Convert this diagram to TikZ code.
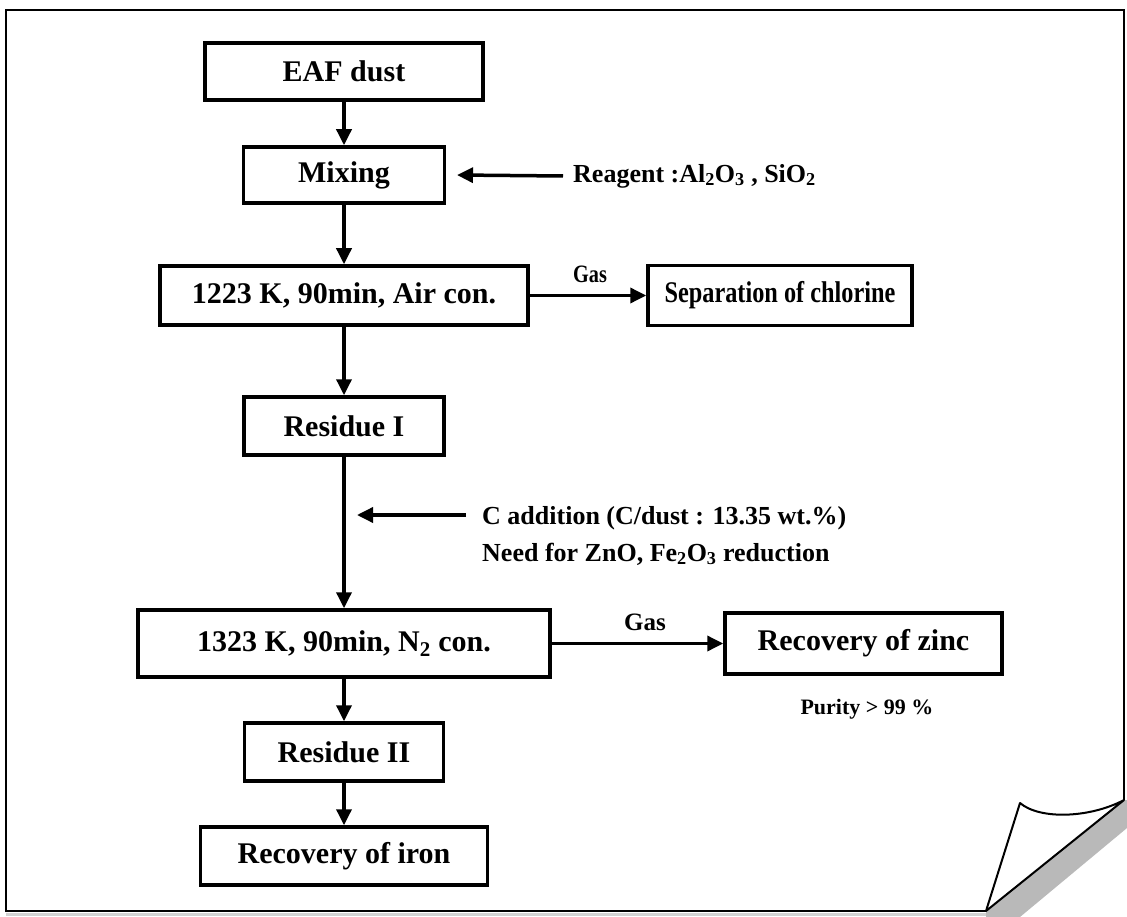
\documentclass[tikz,border=0pt]{standalone}
\usepackage{fontspec}
\setmainfont{Liberation Serif}
\newfontfamily\narrowserif{Liberation Serif}[FakeStretch=0.81]
\usepackage{tikz}
\usetikzlibrary{arrows.meta}
\usepackage[dvipsnames]{xcolor}

\tikzset{
  stepbox/.style={draw, line width=3.5pt, inner sep=0pt, font=\bfseries\fontsize{30}{36}\selectfont},
  arr/.style={line width=3.5pt, -{Triangle[length=16pt,width=15pt]}},
  lbl/.style={inner sep=0pt, font=\bfseries\fontsize{26}{30}\selectfont},
}

\begin{document}
\begin{tikzpicture}[x=1pt, y=-1pt]
        \useasboundingbox (0,0) rectangle (1127,917);

        % page with the turned corner
        \fill[gray!55] (986,911) -- (1124,800) -- (1127,800) -- (1127,828) -- (1020,917) -- (986,917) -- cycle;
        \fill[gray!35] (6,913) rectangle (986,916);
        \draw[line width=2pt] (986,911) -- (6,911) -- (6,10) -- (1124,10) -- (1124,800);
        \draw[line width=2pt, line join=round] (986,911) -- (1020,803) .. controls (1040,820) and (1090,818) .. (1124,800) -- cycle;

        \node[stepbox, minimum width=278pt, minimum height=57pt] (dust) at (344,71.5) {EAF dust};
        \node[stepbox, minimum width=201pt, minimum height=56pt] (mix) at (344,175) {Mixing};
        \node[stepbox, minimum width=368pt, minimum height=59pt] (heatA) at (344,295.5) {1223 K, 90min, Air con.};
        \node[stepbox, minimum width=264pt, minimum height=60pt, font=\narrowserif\bfseries\fontsize{30}{36}\selectfont] (chlor) at (780,295.5) {Separation of chlorine};
        \node[stepbox, minimum width=200pt, minimum height=58pt] (resA) at (344,426) {Residue I};
        \node[stepbox, minimum width=412pt, minimum height=67pt] (heatB) at (344,643.5) {1323 K, 90min, N\textsubscript{2} con.};
        \node[stepbox, minimum width=277pt, minimum height=61pt] (zinc) at (863.5,643.5) {Recovery of zinc};
        \node[stepbox, minimum width=199pt, minimum height=58pt] (resB) at (344,752) {Residue II};
        \node[stepbox, minimum width=287pt, minimum height=58pt] (iron) at (344,856) {Recovery of iron};

        \node[lbl, anchor=west] (reag) at (573,176) {Reagent :Al\textsubscript{2}O\textsubscript{3} , SiO\textsubscript{2}};
        \node[lbl, anchor=base west] (cadd) at (482,524) {C addition (C/dust : 13.35 wt.\%)};
        \node[lbl, anchor=base west] (need) at (482,561) {Need for ZnO, Fe\textsubscript{2}O\textsubscript{3} reduction};
        \node[lbl, font=\narrowserif\bfseries\fontsize{25}{30}\selectfont] (gasA) at (590,274) {Gas};
        \node[lbl, font=\bfseries\fontsize{25}{30}\selectfont] (gasB) at (645,622) {Gas};
        \node[lbl, font=\bfseries\fontsize{22}{26}\selectfont] (pure) at (867,709) {Purity > 99 \%};

        \coordinate (mixin) at (457,175);
        \coordinate (ctail) at (466,515);
        \coordinate (ctip) at (357,515);

        \draw[arr] (dust) -- (mix);
        \draw[arr] (mix) -- (heatA);
        \draw[arr] (heatA) -- (resA);
        \draw[arr] (resA) -- (heatB);
        \draw[arr] (heatB) -- (resB);
        \draw[arr] (resB) -- (iron);
        \draw[arr] (heatA) -- (chlor);
        \draw[arr] (heatB) -- (zinc);
        \draw[arr] ([xshift=-10pt]reag.west) -- (mixin);
        \draw[arr] (ctail) -- (ctip);
    \end{tikzpicture}
\end{document}
